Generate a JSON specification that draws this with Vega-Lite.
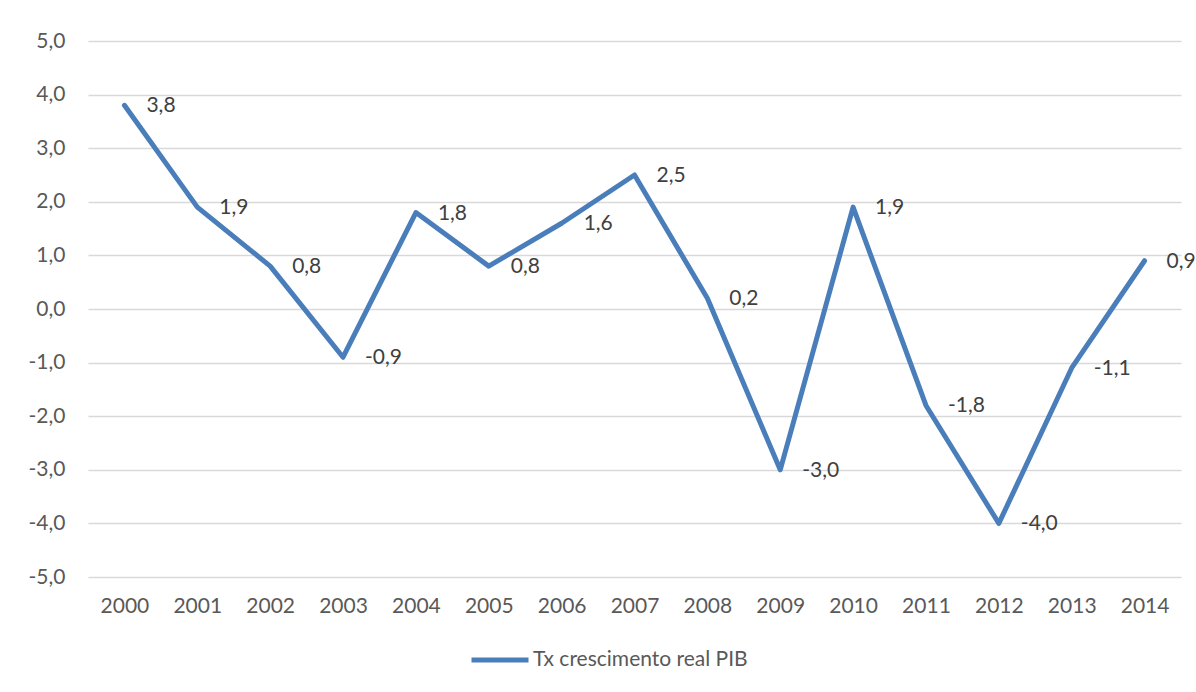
{
  "$schema": "https://vega.github.io/schema/vega-lite/v6.json",
  "autosize": {"type": "none"},
  "width": 1093,
  "height": 536,
  "padding": {"left": 88, "top": 41, "right": 15, "bottom": 115},
  "background": "#ffffff",
  "config": {
    "locale": {"number": {"decimal": ",", "thousands": ".", "grouping": [3], "currency": ["", " €"], "minus": "-"}},
    "font": "Lato",
    "view": {"stroke": null},
    "axis": {
      "labelFont": "Lato",
      "labelFontSize": 21,
      "labelColor": "#595959",
      "domain": false,
      "ticks": false,
      "title": null
    }
  },
  "data": {
    "values": [
      {"ano": "2000", "serie": "Tx crescimento real PIB", "taxa": 3.8},
      {"ano": "2001", "serie": "Tx crescimento real PIB", "taxa": 1.9},
      {"ano": "2002", "serie": "Tx crescimento real PIB", "taxa": 0.8},
      {"ano": "2003", "serie": "Tx crescimento real PIB", "taxa": -0.9},
      {"ano": "2004", "serie": "Tx crescimento real PIB", "taxa": 1.8},
      {"ano": "2005", "serie": "Tx crescimento real PIB", "taxa": 0.8},
      {"ano": "2006", "serie": "Tx crescimento real PIB", "taxa": 1.6},
      {"ano": "2007", "serie": "Tx crescimento real PIB", "taxa": 2.5},
      {"ano": "2008", "serie": "Tx crescimento real PIB", "taxa": 0.2},
      {"ano": "2009", "serie": "Tx crescimento real PIB", "taxa": -3.0},
      {"ano": "2010", "serie": "Tx crescimento real PIB", "taxa": 1.9},
      {"ano": "2011", "serie": "Tx crescimento real PIB", "taxa": -1.8},
      {"ano": "2012", "serie": "Tx crescimento real PIB", "taxa": -4.0},
      {"ano": "2013", "serie": "Tx crescimento real PIB", "taxa": -1.1},
      {"ano": "2014", "serie": "Tx crescimento real PIB", "taxa": 0.9}
    ]
  },
  "encoding": {
    "x": {
      "field": "ano",
      "type": "ordinal",
      "scale": {"type": "point", "padding": 0.5},
      "axis": {"labelAngle": 0, "labelPadding": 18, "grid": false}
    },
    "y": {
      "field": "taxa",
      "type": "quantitative",
      "scale": {"domain": [-5, 5], "nice": false, "zero": false},
      "axis": {
        "values": [-5, -4, -3, -2, -1, 0, 1, 2, 3, 4, 5],
        "format": ".1f",
        "labelPadding": 23,
        "grid": true,
        "gridColor": "#d9d9d9",
        "gridWidth": 1.5
      }
    }
  },
  "layer": [
    {
      "mark": {"type": "line", "strokeWidth": 5, "strokeCap": "round", "strokeJoin": "round"},
      "encoding": {
        "color": {
          "field": "serie",
          "type": "nominal",
          "scale": {"range": ["#4a7ebb"]},
          "legend": {
            "title": null,
            "orient": "none",
            "legendX": 381,
            "legendY": 588,
            "symbolType": "stroke",
            "symbolSize": 3249,
            "symbolStrokeWidth": 5,
            "labelFont": "Lato",
            "labelFontSize": 21,
            "labelColor": "#595959",
            "labelOffset": 2,
            "labelLimit": 400
          }
        }
      }
    },
    {
      "mark": {"type": "text", "align": "left", "baseline": "middle", "dx": 22, "dy": 1, "fontSize": 21, "font": "Lato", "color": "#404040"},
      "encoding": {
        "text": {"field": "taxa", "type": "quantitative", "format": ".1f"}
      }
    }
  ]
}
